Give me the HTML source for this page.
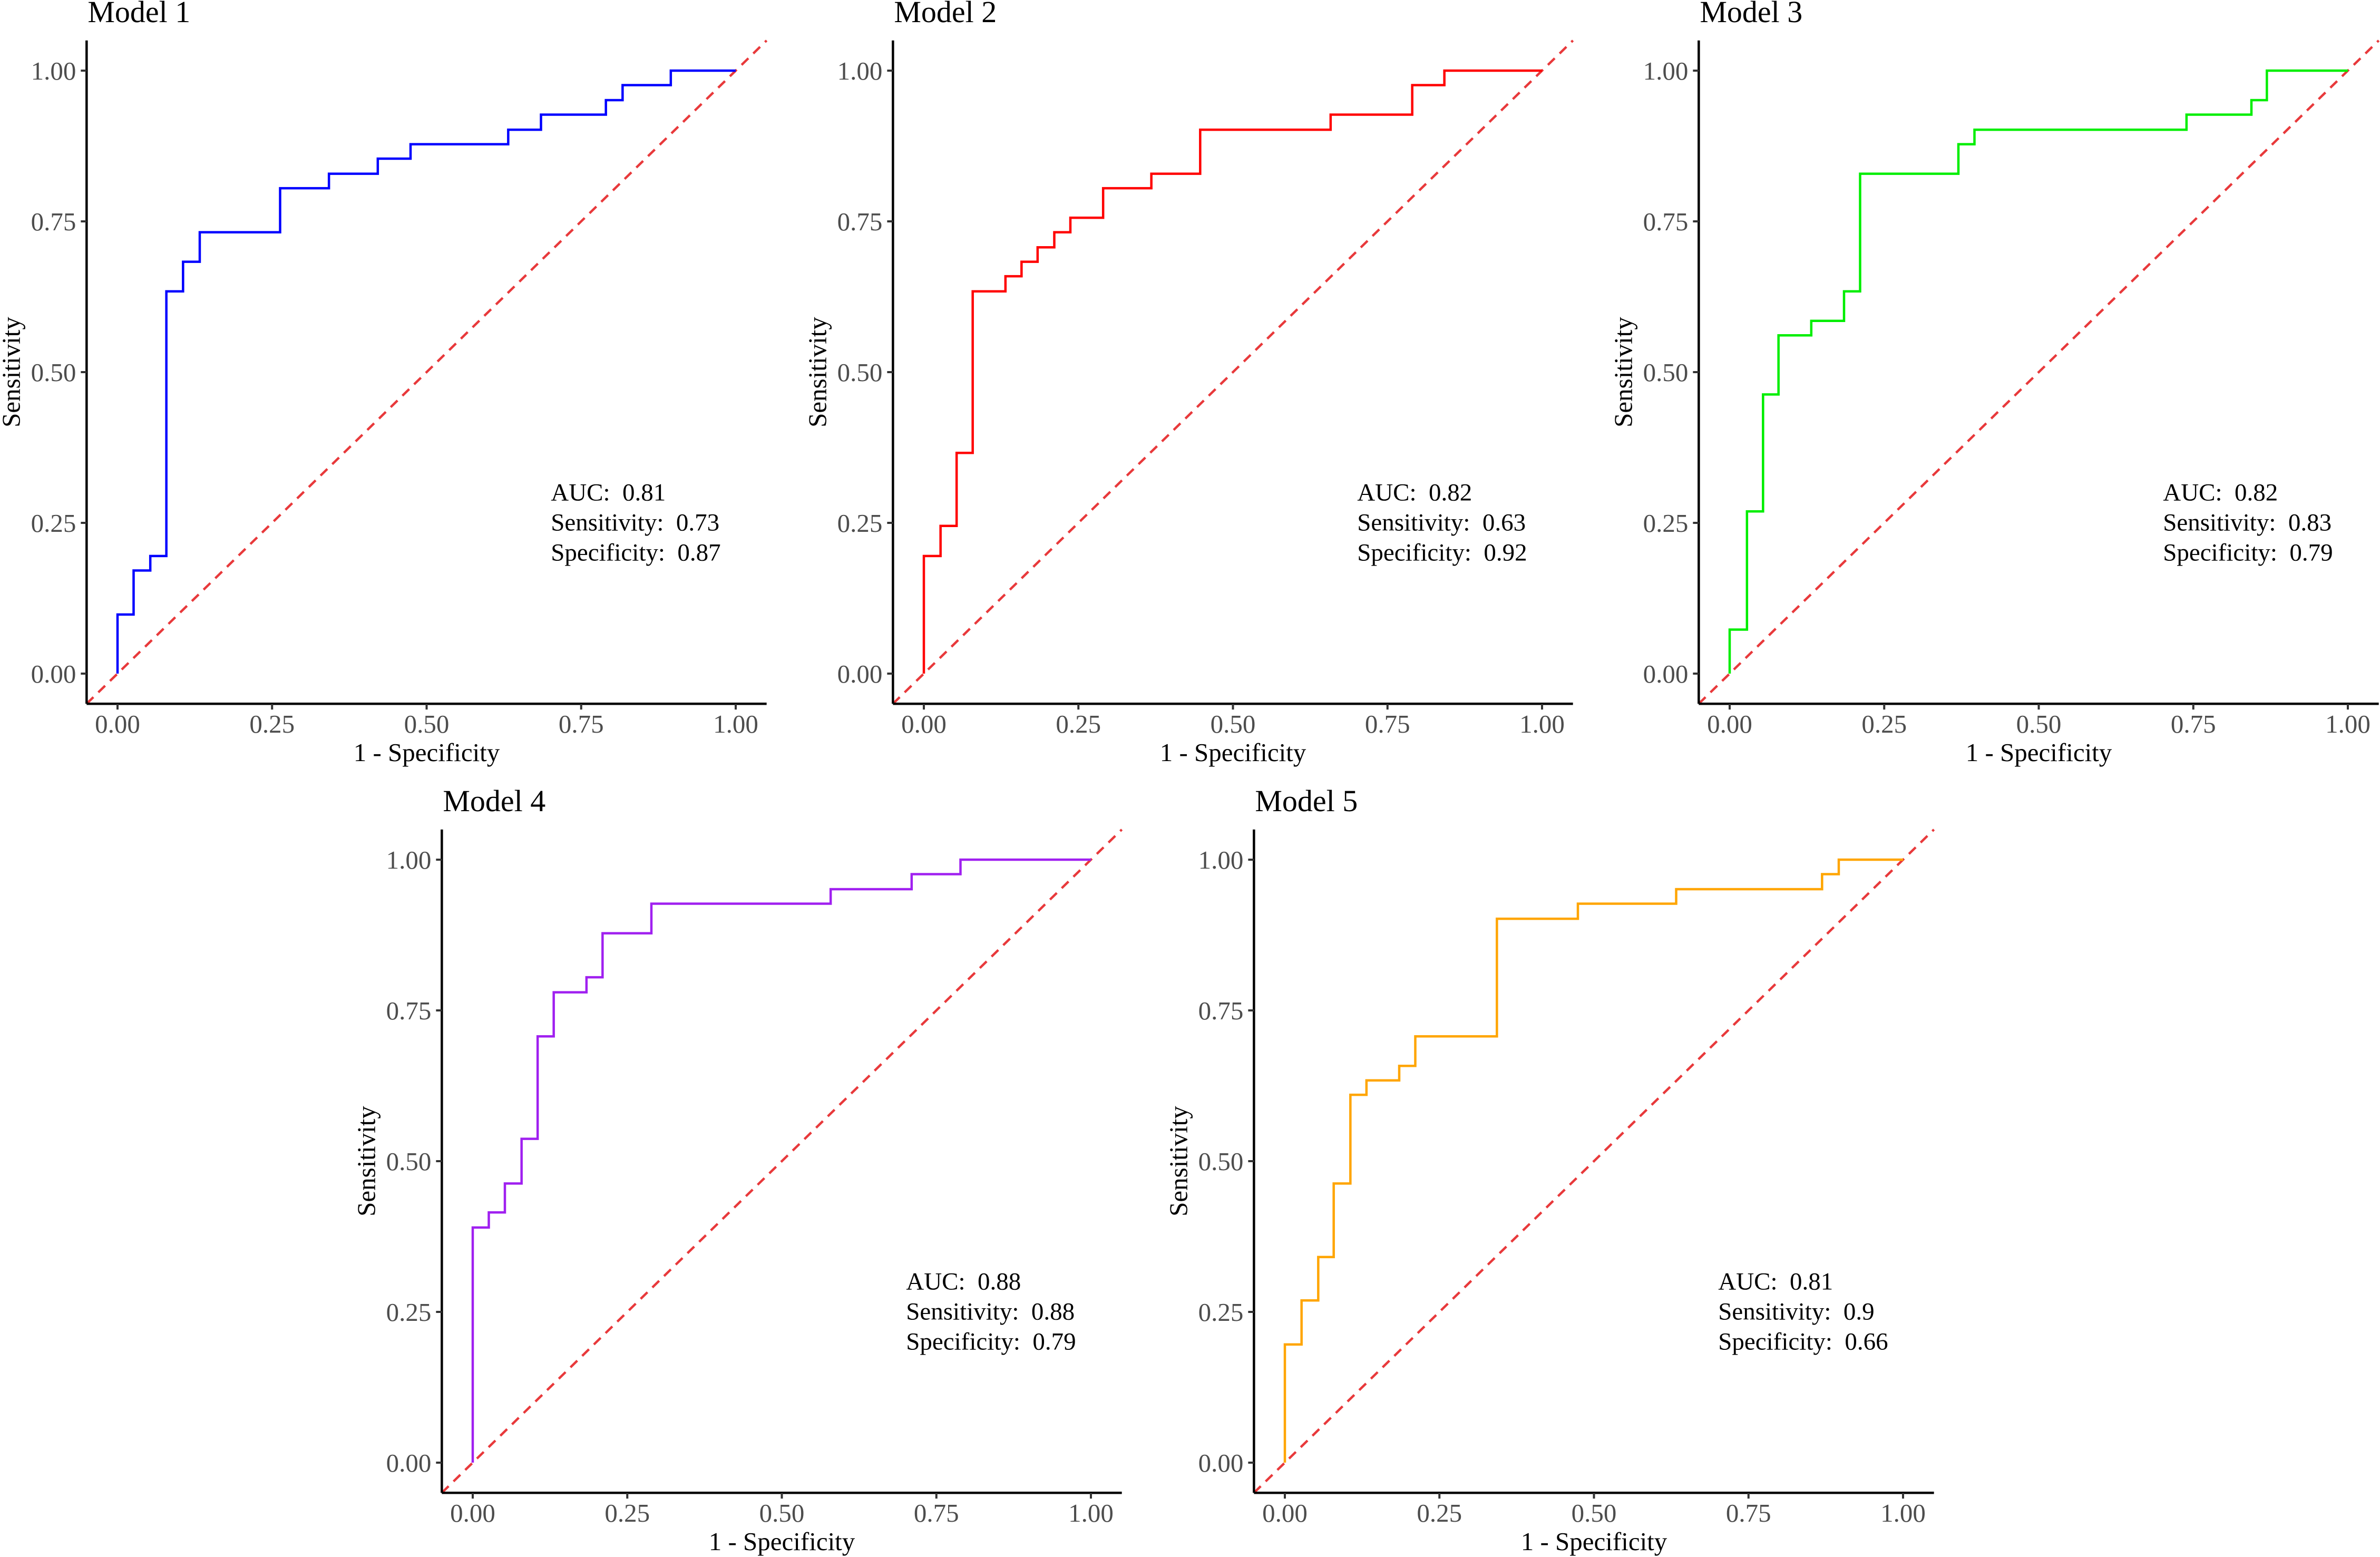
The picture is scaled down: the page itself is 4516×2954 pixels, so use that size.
<!DOCTYPE html>
<html><head><meta charset="utf-8">
<style>
html,body{margin:0;padding:0;background:#fff;}
svg{display:block;}
text{font-family:"Liberation Serif","Times New Roman",serif;white-space:pre;}
</style></head>
<body>
<svg id="chart" width="4516" height="2954" viewBox="0 0 4516 2954" xmlns="http://www.w3.org/2000/svg"></svg>
<script>
const tickValues = [0, 0.25, 0.5, 0.75, 1];
const tickLabels = ["0.00", "0.25", "0.50", "0.75", "1.00"];
const modelNames = ["Model 1", "Model 2", "Model 3", "Model 4", "Model 5"];
const modelColors = ["#0000ff", "#ff0000", "#00ee00", "#a020f0", "#ffa500"];
const aucValues = ["0.81", "0.82", "0.82", "0.88", "0.81"];
const sensValues = ["0.73", "0.63", "0.83", "0.88", "0.9"];
const specValues = ["0.87", "0.92", "0.79", "0.79", "0.66"];
const m1Fpr = [0,0.026,0.053,0.079,0.106,0.133,0.263,0.342,0.421,0.474,0.632,0.685,0.79,0.817,0.895];
const m1Tpr = [0.098,0.171,0.195,0.634,0.683,0.732,0.805,0.829,0.854,0.878,0.902,0.927,0.951,0.976,1.0];
const m2Fpr = [0,0.027,0.053,0.079,0.132,0.158,0.184,0.211,0.237,0.290,0.368,0.447,0.658,0.790,0.842];
const m2Tpr = [0.195,0.245,0.366,0.634,0.659,0.683,0.707,0.732,0.756,0.805,0.829,0.902,0.927,0.976,1.0];
const m3Fpr = [0,0.028,0.054,0.079,0.132,0.185,0.211,0.370,0.396,0.739,0.844,0.869];
const m3Tpr = [0.073,0.269,0.463,0.561,0.585,0.634,0.829,0.878,0.902,0.927,0.951,1.0];
const m4Fpr = [0,0.026,0.052,0.079,0.105,0.131,0.184,0.210,0.289,0.579,0.710,0.789];
const m4Tpr = [0.390,0.415,0.463,0.537,0.707,0.780,0.805,0.878,0.927,0.951,0.976,1.0];
const m5Fpr = [0,0.027,0.054,0.079,0.106,0.132,0.185,0.211,0.343,0.474,0.633,0.869,0.896];
const m5Tpr = [0.196,0.269,0.341,0.463,0.610,0.634,0.658,0.707,0.902,0.927,0.951,0.976,1.0];
const fprSets = [m1Fpr, m2Fpr, m3Fpr, m4Fpr, m5Fpr];
const tprSets = [m1Tpr, m2Tpr, m3Tpr, m4Tpr, m5Tpr];

const svg = document.getElementById('chart');
const NS = 'http://www.w3.org/2000/svg';
const layout = [[223,1278],[1753,1278],[3282,1278],[897,2775],[2438,2775]];
const SX = 1173, SY = 1144;

function mk(tag, attrs, parent, txt) {
  const e = document.createElementNS(NS, tag);
  for (const k in attrs) e.setAttribute(k, attrs[k]);
  if (txt !== undefined) e.textContent = txt;
  parent.appendChild(e);
  return e;
}

for (let p = 0; p < 5; p++) {
  const x0 = layout[p][0], y0 = layout[p][1];
  const xs = v => x0 + v * SX;
  const ys = v => y0 - v * SY;
  const g = mk('g', {}, svg);
  
  

  const diag = mk('line', {x1: xs(-0.05), y1: ys(-0.05), x2: xs(1.05), y2: ys(1.05), stroke: '#e8393b', 'stroke-width': 4.5, 'stroke-dasharray': '18 13'}, g);
  
  

  const fpr = fprSets[p], tpr = tprSets[p];
  let d = 'M' + xs(0) + ' ' + ys(0);
  let cy = 0;
  for (let i = 0; i < fpr.length; i++) {
    d += ' L' + xs(fpr[i]) + ' ' + ys(cy);
    d += ' L' + xs(fpr[i]) + ' ' + ys(tpr[i]);
    cy = tpr[i];
  }
  d += ' L' + xs(1) + ' ' + ys(cy);
  const curve = mk('path', {d: d, fill: 'none', stroke: modelColors[p], 'stroke-width': 4.5}, g);
  
  

  const ax = mk('line', {x1: xs(-0.05), y1: ys(-0.05), x2: xs(1.05), y2: ys(-0.05), stroke: '#000', 'stroke-width': 4.5}, g);
  
  
  const ay = mk('line', {x1: xs(-0.05), y1: ys(-0.05), x2: xs(-0.05), y2: ys(1.05), stroke: '#000', 'stroke-width': 4.5}, g);
  
  

  for (let t = 0; t < tickValues.length; t++) {
    const v = tickValues[t];
    const tx = mk('line', {x1: xs(v), y1: ys(-0.05), x2: xs(v), y2: ys(-0.05) + 11, stroke: '#333', 'stroke-width': 4}, g);
    
    
    const lx = mk('text', {x: xs(v), y: y0 + 112, 'text-anchor': 'middle', 'font-size': 49, fill: '#4d4d4d'}, g, tickLabels[t]);
    
    
    const ty = mk('line', {x1: xs(-0.05) - 11, y1: ys(v), x2: xs(-0.05), y2: ys(v), stroke: '#333', 'stroke-width': 4}, g);
    
    
    const ly = mk('text', {x: xs(-0.05) - 20, y: ys(v) + 17, 'text-anchor': 'end', 'font-size': 49, fill: '#4d4d4d'}, g, tickLabels[t]);
    
    
  }

  const xt = mk('text', {x: xs(0.5), y: y0 + 166, 'text-anchor': 'middle', 'font-size': 49, fill: '#000'}, g, '1 - Specificity');
  
  
  const yx = xs(-0.05) - 127, yy = ys(0.5);
  const yt = mk('text', {x: yx, y: yy, 'text-anchor': 'middle', 'font-size': 49, fill: '#000', transform: 'rotate(-90 ' + yx + ' ' + yy + ')'}, g, 'Sensitivity');
  
  

  const ti = mk('text', {x: xs(-0.05) + 2, y: ys(1) - 92, 'font-size': 58, fill: '#000'}, g, modelNames[p]);
  
  

  const ann = [['AUC:  ', aucValues[p]], ['Sensitivity:  ', sensValues[p]], ['Specificity:  ', specValues[p]]];
  for (let i = 0; i < 3; i++) {
    const a = mk('text', {x: xs(0.701), y: ys(0.287) + i * 57, 'font-size': 47, fill: '#000'}, g, ann[i][0] + ann[i][1]);
    
    
  }
}
</script>
</body></html>
